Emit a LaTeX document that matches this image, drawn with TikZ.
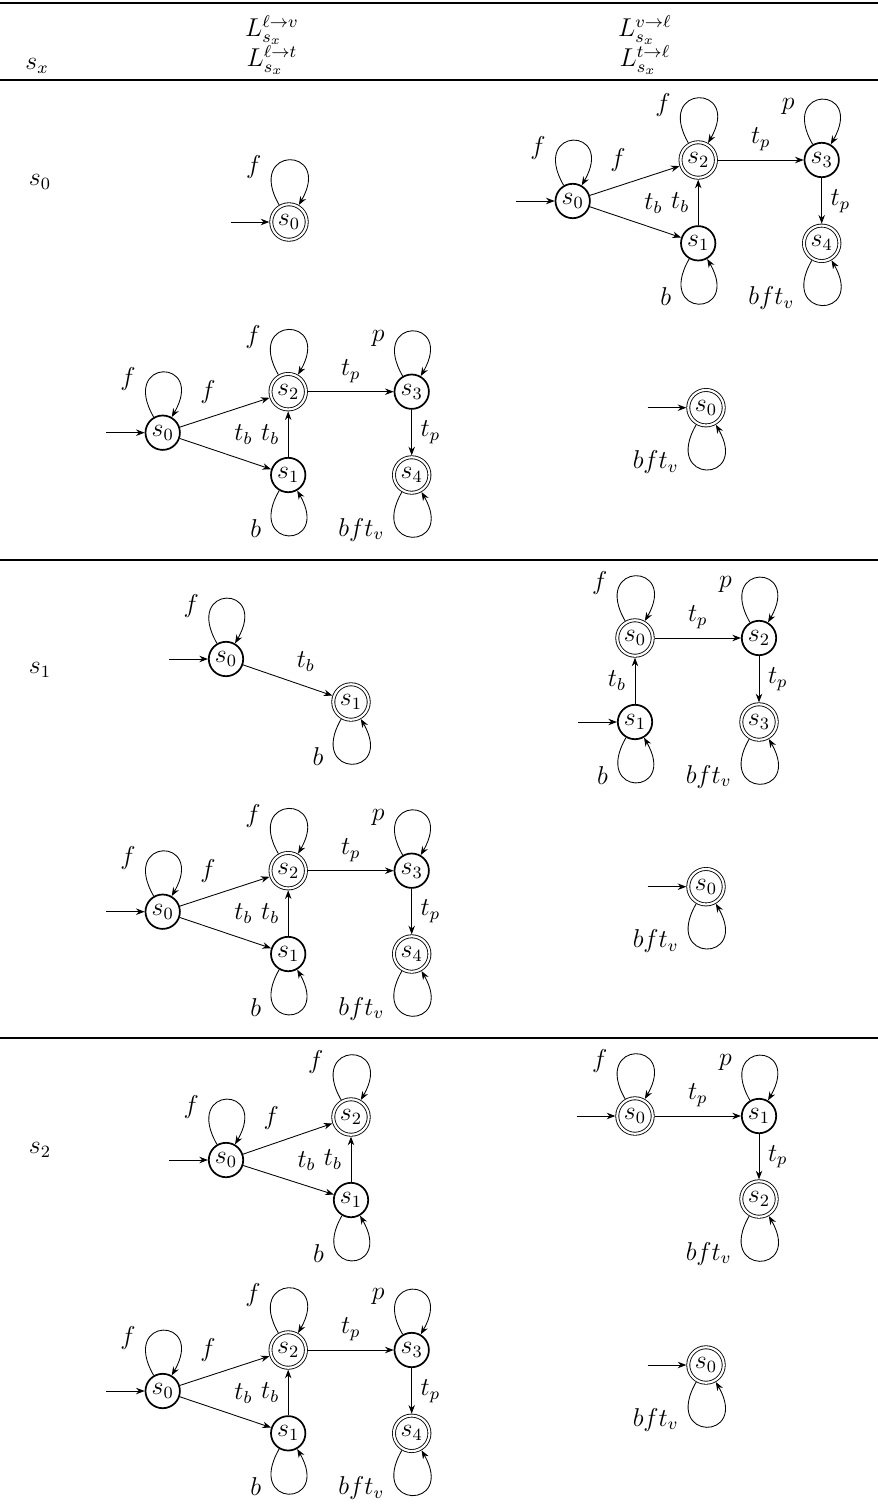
\documentclass[tikz,border=0pt,12pt]{standalone}
\usepackage{amsmath,amssymb}
\usepackage{tikz}
\usetikzlibrary{arrows.meta,positioning}

\tikzset{
  st/.style={circle,draw,thick,minimum size=16pt,inner sep=0pt},
  acc/.style={circle,draw,double,double distance=1pt,minimum size=16.5pt,inner sep=0pt,outer sep=0.9pt},
  rowrule/.style={line width=0.5pt},
  head/.style={inner sep=0pt},
}
% self loops and start arrows
\newcommand{\loopup}[2]{\draw[->] (#1.120) to[out=120,in=60,distance=32pt] node[pos=.3,left=2pt] {$#2$} (#1.60);}
\newcommand{\loopdown}[2]{\draw[->] (#1.-120) to[out=-120,in=-60,distance=32pt] node[pos=.3,left=2pt] {$#2$} (#1.-60);}
\newcommand{\initarr}[1]{\coordinate[left=18pt of #1] (#1i); \draw[->] (#1i) -- (#1);}
% five states, #1,#2 = place of s0, #3 = prefix of the names
\newcommand{\fiveaut}[3]{%
  \begin{scope}[shift={(#1,#2)}]
    \node[st]  (#3s0) at (0,0)         {$s_0$};
    \node[acc] (#3s2) at (125.5,41)    {$s_2$};
    \node[st]  (#3s1) at (125.5,-42.3) {$s_1$};
    \node[st]  (#3s3) at (249,41)      {$s_3$};
    \node[acc] (#3s4) at (249,-42.3)   {$s_4$};
  \end{scope}
  \initarr{#3s0}
  \loopup{#3s0}{f} \loopup{#3s2}{f} \loopup{#3s3}{p}
  \loopdown{#3s1}{b} \loopdown{#3s4}{bft_v}
  \draw[->] (#3s0) -- node[auto] {$f$} (#3s2);
  \draw[->] (#3s0) -- node[auto] {$t_b$} (#3s1);
  \draw[->] (#3s1) -- node[auto] {$t_b$} (#3s2);
  \draw[->] (#3s2) -- node[auto] {$t_p$} (#3s3);
  \draw[->] (#3s3) -- node[auto] {$t_p$} (#3s4);
}
% one accepting state
\newcommand{\sinkaut}[3]{%
  \node[acc] (#3) at (#1,#2) {$s_0$};
  \initarr{#3} \loopdown{#3}{bft_v}
}

\begin{document}
\begin{tikzpicture}[x=0.4651pt,y=0.4651pt,>={Stealth[length=4pt,width=3pt]}]
  \useasboundingbox (0,0) rectangle (878,-1512);
  \draw[line width=0.8pt] (0,-3) -- (878,-3);
  \draw[line width=0.7pt] (0,-80) -- (878,-80);
  \draw[rowrule] (0,-560) -- (878,-560);
  \draw[rowrule] (0,-1038) -- (878,-1038);

  % header
  \node[head] (hsx) at (37,-66) {$s_x$};
  \node[head] (hlv) at (272,-30) {$L^{\ell\to v}_{s_x}$};
  \node[head] (hlt) at (272,-60) {$L^{\ell\to t}_{s_x}$};
  \node[head] (hvl) at (645,-30) {$L^{v\to\ell}_{s_x}$};
  \node[head] (htl) at (645,-60) {$L^{t\to\ell}_{s_x}$};

  % row s_0
  \node (r0) at (40,-182) {$s_0$};
  \node[acc] (a0) at (289,-222) {$s_0$};
  \initarr{a0} \loopup{a0}{f}
  \fiveaut{572.7}{-201}{b}
  \fiveaut{162.7}{-432.7}{c}
  \sinkaut{706}{-407.7}{d0}

  % row s_1
  \node (r1) at (40,-670) {$s_1$};
  \node[st]  (e0) at (226,-659) {$s_0$};
  \node[acc] (e1) at (351,-702) {$s_1$};
  \initarr{e0} \loopup{e0}{f} \loopdown{e1}{b}
  \draw[->] (e0) -- node[auto] {$t_b$} (e1);

  \node[acc] (f0) at (635,-638) {$s_0$};
  \node[st]  (f2) at (759,-638) {$s_2$};
  \node[st]  (f1) at (635,-722) {$s_1$};
  \node[acc] (f3) at (759,-722) {$s_3$};
  \initarr{f1}
  \loopup{f0}{f} \loopup{f2}{p} \loopdown{f1}{b} \loopdown{f3}{bft_v}
  \draw[->] (f1) -- node[auto] {$t_b$} (f0);
  \draw[->] (f0) -- node[auto] {$t_p$} (f2);
  \draw[->] (f2) -- node[auto] {$t_p$} (f3);

  \fiveaut{162.7}{-911.7}{g}
  \sinkaut{706}{-886.7}{h0}

  % row s_2
  \node (r2) at (40,-1150) {$s_2$};
  \node[st]  (i0) at (226,-1160) {$s_0$};
  \node[acc] (i2) at (351,-1117) {$s_2$};
  \node[st]  (i1) at (351,-1200) {$s_1$};
  \initarr{i0}
  \loopup{i0}{f} \loopup{i2}{f} \loopdown{i1}{b}
  \draw[->] (i0) -- node[auto] {$f$} (i2);
  \draw[->] (i0) -- node[auto] {$t_b$} (i1);
  \draw[->] (i1) -- node[auto] {$t_b$} (i2);

  \node[acc] (j0) at (635,-1116) {$s_0$};
  \node[st]  (j1) at (759,-1116) {$s_1$};
  \node[acc] (j2) at (759,-1199) {$s_2$};
  \initarr{j0}
  \loopup{j0}{f} \loopup{j1}{p} \loopdown{j2}{bft_v}
  \draw[->] (j0) -- node[auto] {$t_p$} (j1);
  \draw[->] (j1) -- node[auto] {$t_p$} (j2);

  \fiveaut{162.7}{-1391}{k}
  \sinkaut{706}{-1365}{l0}
\end{tikzpicture}
\end{document}
